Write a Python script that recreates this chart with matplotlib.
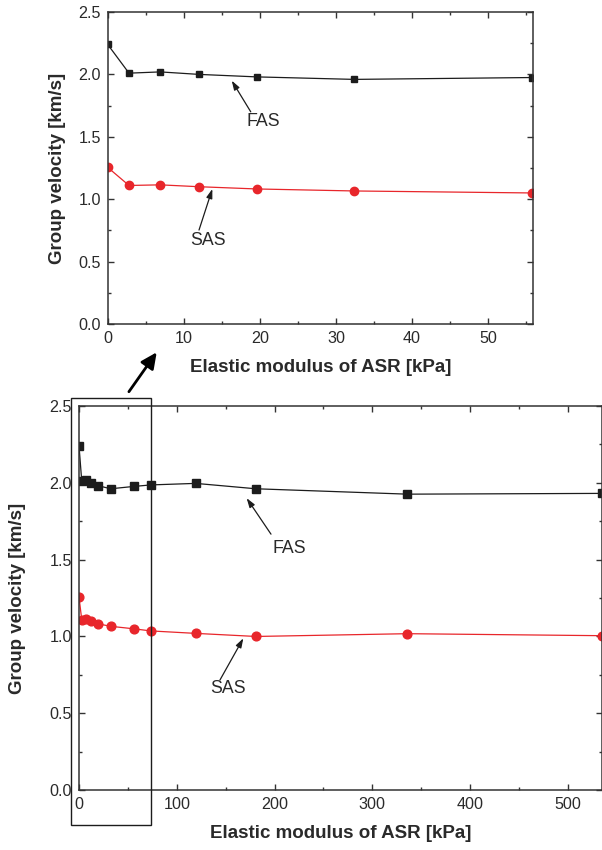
import matplotlib
matplotlib.use("Agg")
import matplotlib.pyplot as plt
from matplotlib.patches import Rectangle, FancyArrowPatch
from matplotlib.ticker import MultipleLocator

plt.rcParams['font.family'] = ['Liberation Sans', 'DejaVu Sans']

# ---- data ----
modulus_kpa = [0, 2.8, 6.9, 12.0, 19.6, 32.4, 55.8, 73.4, 119.4, 181, 336, 535]
fas_velocity = [2.24, 2.01, 2.02, 2.00, 1.98, 1.96, 1.975, 1.985, 1.995, 1.96, 1.925, 1.93]
sas_velocity = [1.255, 1.11, 1.115, 1.10, 1.082, 1.066, 1.05, 1.036, 1.02, 1.0, 1.018, 1.005]
xlabel = "Elastic modulus of ASR [kPa]"
ylabel = "Group velocity [km/s]"

RED = '#e8262b'
BLK = '#1c1c1c'
TXT = '#2a2a2a'
SPN = '#333333'

W, H = 602, 850
fig = plt.figure(figsize=(W / 100, H / 100), dpi=100)


def px_axes(l, t, r, b):
    return fig.add_axes([l / W, 1 - b / H, (r - l) / W, (b - t) / H])


def style(ax, xmaj, xmin, fs=11.6):
    ax.xaxis.set_major_locator(MultipleLocator(xmaj))
    ax.xaxis.set_minor_locator(MultipleLocator(xmin))
    ax.yaxis.set_major_locator(MultipleLocator(0.5))
    ax.yaxis.set_minor_locator(MultipleLocator(0.25))
    ax.tick_params(which='both', direction='in', top=True, right=True,
                   color=SPN, width=1.0, labelcolor=TXT, labelsize=fs, pad=5.0)
    ax.tick_params(which='major', length=4.5)
    ax.tick_params(which='minor', length=2.5)
    for s in ax.spines.values():
        s.set_color(SPN)
        s.set_linewidth(1.1)
    ax.set_ylim(0, 2.5)
    ax.yaxis.set_major_formatter(matplotlib.ticker.FormatStrFormatter('%.1f'))


def labels(ax, xy_x, xy_y):
    ax.set_xlabel(xlabel, fontsize=13.5, fontweight='bold', color=TXT)
    ax.set_ylabel(ylabel, fontsize=13.5, fontweight='bold', color=TXT)
    ax.xaxis.set_label_coords(0.5, xy_x)
    ax.yaxis.set_label_coords(xy_y, 0.5)
    ax.xaxis.label.set_va('center')
    ax.yaxis.label.set_va('center')


def arrow(ax, head, tail):
    ax.annotate('', xy=head, xytext=tail,
                arrowprops=dict(arrowstyle='-|>,head_length=0.55,head_width=0.18',
                                color=BLK, lw=0.9, shrinkA=0, shrinkB=0))


# ---- top (zoomed) axes ----
ax1 = px_axes(107.7, 12, 532.7, 324)
ax1.plot(modulus_kpa, fas_velocity, color=BLK, lw=0.9, marker='s', ms=5.0,
         mfc=BLK, mec=BLK)
ax1.plot(modulus_kpa, sas_velocity, color=RED, lw=0.9, marker='o', ms=6.0,
         mfc=RED, mec=RED)
ax1.set_xlim(0, 55.85)
style(ax1, 10, 5)
labels(ax1, -0.138, -0.117)
arrow(ax1, (16.3, 1.95), (18.8, 1.70))
ax1.text(20.4, 1.62, "FAS", fontsize=12.8, color=TXT, ha='center', va='center')
arrow(ax1, (13.75, 1.082), (12.0, 0.753))
ax1.text(13.2, 0.673, "SAS", fontsize=12.8, color=TXT, ha='center', va='center')

# ---- bottom (full) axes ----
ax2 = px_axes(79, 405.7, 602, 790.3)
ax2.plot(modulus_kpa, fas_velocity, color=BLK, lw=0.9, marker='s', ms=6.0,
         mfc=BLK, mec=BLK)
ax2.plot(modulus_kpa, sas_velocity, color=RED, lw=0.9, marker='o', ms=6.3,
         mfc=RED, mec=RED)
ax2.set_xlim(0, 535)
style(ax2, 100, 50)
labels(ax2, -0.1136, -0.118)
arrow(ax2, (171.5, 1.899), (196.4, 1.665))
ax2.text(215.1, 1.569, "FAS", fontsize=12.8, color=TXT, ha='center', va='center')
arrow(ax2, (168.1, 0.988), (144.2, 0.717))
ax2.text(152.4, 0.659, "SAS", fontsize=12.8, color=TXT, ha='center', va='center')

# ---- zoom box and connecting arrow ----
fig.patches.append(Rectangle((70.7 / W, 1 - 825 / H), 80 / W, (825 - 398.3) / H,
                             transform=fig.transFigure, fill=False,
                             edgecolor=BLK, lw=1.0))
fig.patches.append(FancyArrowPatch((127.3 / W, 1 - 394 / H), (158.3 / W, 1 - 350 / H),
                                   transform=fig.transFigure,
                                   arrowstyle='-|>,head_length=0.8,head_width=0.38',
                                   mutation_scale=12, color='black', lw=2.0))

fig.savefig("out.png", dpi=100)
